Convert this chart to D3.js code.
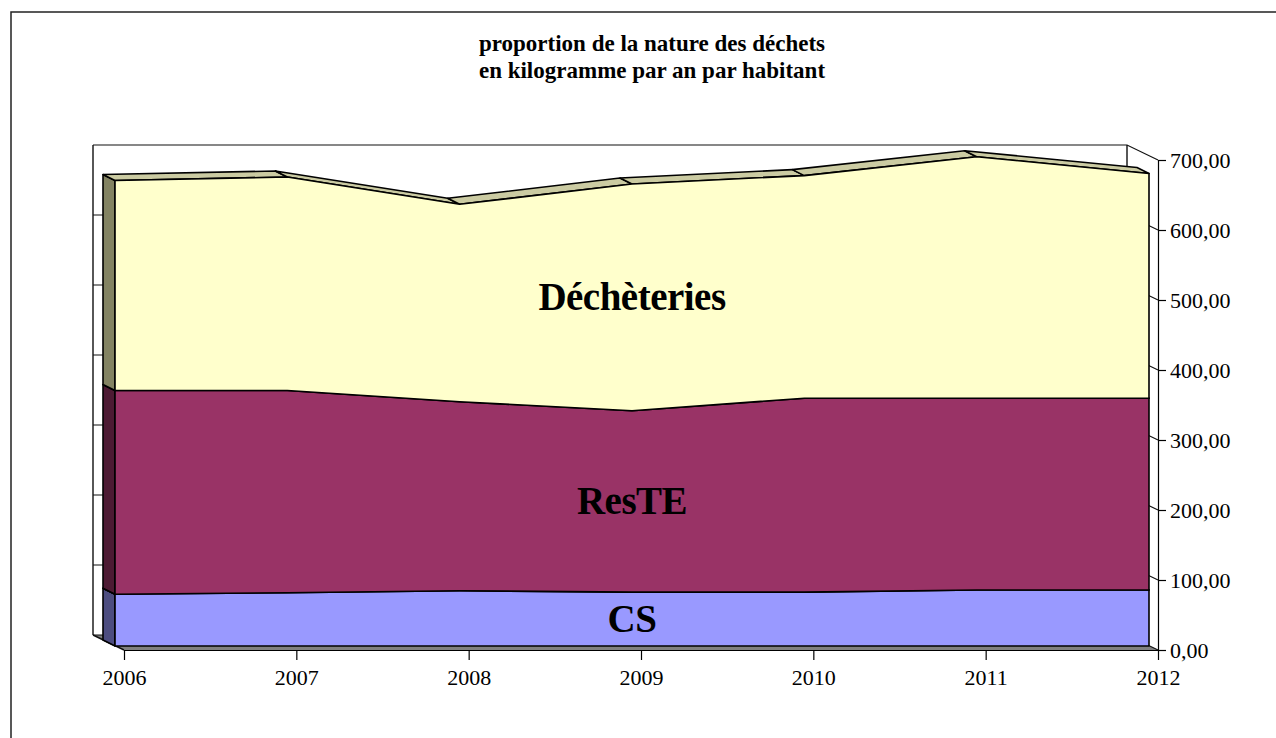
<!DOCTYPE html>
<html lang="fr">
	<head>
		<meta charset="utf-8">
		<title>proportion de la nature des déchets</title>
		<script type="text/javascript" src="https://cdn.jsdelivr.net/npm/d3@7/dist/d3.min.js"></script>
		<style type="text/css">
			body { margin: 0; background: #fff; }
			svg { display: block; }
			text { font-family: "Liberation Serif", "Times New Roman", serif; fill: #000; }
		</style>
	</head>
	<body>
		<script>
			// data (kg / an / habitant)
			var years = ['2006', '2007', '2008', '2009', '2010', '2011', '2012'];
			var keys = ['CS', 'ResTE', 'Déchèteries'];
			var cs = [74, 76, 79, 77, 77, 80, 80];
			var reste = [291, 289, 270, 259, 277, 274, 274];
			var decheteries = [300, 305, 282, 324, 318, 345, 321];
			var yTicks = [0, 100, 200, 300, 400, 500, 600, 700];
			var titleLines = ['proportion de la nature des déchets', 'en kilogramme par an par habitant'];

			var outerWidth = 1276,
				outerHeight = 738;

			var rows = years.map(function(yr, i) {
				return {year: yr, 'CS': cs[i], 'ResTE': reste[i], 'Déchèteries': decheteries[i]};
			});
			var stacked = d3.stack().keys(keys)(rows);

			// back wall plane
			var x = d3.scalePoint().domain(years).range([93, 1127]);
			var y = d3.scaleLinear().domain([0, 700]).range([635, 145]);

			// depth offsets of the oblique projection
			var wall = {dx: 0, dy: 0},
				back = {dx: 10, dy: 5},
				front = {dx: 22, dy: 11},
				axisD = {dx: 31, dy: 15};

			function P(yr, v, d) { return [x(yr) + d.dx, y(v) + d.dy]; }

			var colors = {
				'CS': {front: '#9999ff', side: '#4d4d80', top: '#7a7acc'},
				'ResTE': {front: '#993366', side: '#4d1a33', top: '#7a2952'},
				'Déchèteries': {front: '#ffffcc', side: '#838362', top: '#cbcba2'}
			};

			var svg = d3.select('body')
				.append('svg')
				.attr('width', outerWidth)
				.attr('height', outerHeight);

			// chart border (right and bottom run off the picture)
			svg.append('rect')
				.attr('x', 11).attr('y', 12)
				.attr('width', 1400).attr('height', 900)
				.attr('fill', 'none')
				.attr('stroke', '#222')
				.attr('stroke-width', 1.5);

			// title
			svg.append('g')
				.selectAll('text')
				.data(titleLines)
				.enter().append('text')
				.attr('x', 652)
				.attr('y', function(d, i) { return 51 + i * 27; })
				.attr('text-anchor', 'middle')
				.attr('font-weight', 'bold')
				.attr('font-size', '23px')
				.text(function(d) { return d; });

			var line = d3.line();
			var first = years[0], last = years[years.length - 1];

			// floor
			svg.append('path')
				.attr('d', line([P(first, 0, wall), P(last, 0, wall), P(last, 0, axisD), P(first, 0, axisD)]) + 'Z')
				.attr('fill', '#808080')
				.attr('stroke', 'none');

			// back wall + side wall gridlines
			var walls = svg.append('g')
				.attr('fill', 'none')
				.attr('stroke', '#111')
				.attr('stroke-width', 1.2);

			walls.selectAll('.grid')
				.data(yTicks)
				.enter().append('path')
				.attr('class', 'grid')
				.attr('d', function(v) {
					return line([P(first, v, wall), P(last, v, wall), P(last, v, axisD)]);
				});

			walls.append('path')
				.attr('d', line([P(first, 0, wall), P(first, 700, wall)]) + line([P(last, 0, wall), P(last, 700, wall)]) +
					line([P(first, 0, wall), P(first, 0, axisD)]))
				.attr('stroke-width', 1.4);

			// stacked 3D areas
			var layers = svg.append('g')
				.attr('stroke', '#000')
				.attr('stroke-width', 1.6)
				.attr('stroke-linejoin', 'round');

			stacked.forEach(function(s) {
				var c = colors[s.key];
				var g = layers.append('g');

				// left side
				g.append('path')
					.attr('d', line([P(first, s[0][0], back), P(first, s[0][1], back), P(first, s[0][1], front), P(first, s[0][0], front)]) + 'Z')
					.attr('fill', c.side);

				// top strip, one piece per segment
				for (var i = 0; i < years.length - 1; i++) {
					var a = years[i], b = years[i + 1];
					g.append('path')
						.attr('d', line([P(a, s[i][1], back), P(b, s[i + 1][1], back), P(b, s[i + 1][1], front), P(a, s[i][1], front)]) + 'Z')
						.attr('fill', c.top);
				}

				// front face
				var upper = s.map(function(d) { return P(d.data.year, d[1], front); });
				var lower = s.map(function(d) { return P(d.data.year, d[0], front); }).reverse();
				g.append('path')
					.attr('d', line(upper.concat(lower)) + 'Z')
					.attr('fill', c.front);
			});

			// series labels, centred on the middle category
			var mid = Math.floor(years.length / 2);
			svg.append('g')
				.selectAll('text')
				.data(stacked)
				.enter().append('text')
				.attr('x', function(s) { return P(years[mid], 0, front)[0]; })
				.attr('y', function(s) { return P(years[mid], (s[mid][0] + s[mid][1]) / 2, front)[1]; })
				.attr('dy', '0.33em')
				.attr('text-anchor', 'middle')
				.attr('font-weight', 'bold')
				.attr('font-size', '39px')
				.attr('letter-spacing', '-0.5px')
				.text(function(s) { return s.key; });

			// axes
			var fr = d3.formatLocale({decimal: ',', thousands: ' ', grouping: [3], currency: ['', '']});
			var fmt = fr.format('.2f');

			var yAxis = svg.append('g')
				.attr('transform', 'translate(' + (x(last) + axisD.dx) + ',' + axisD.dy + ')')
				.call(d3.axisRight(y).tickValues(yTicks).tickFormat(fmt).tickSize(8).tickSizeOuter(0).tickPadding(4));

			var xAxis = svg.append('g')
				.attr('transform', 'translate(' + axisD.dx + ',' + (y(0) + axisD.dy) + ')')
				.call(d3.axisBottom(x).tickSize(10).tickSizeOuter(0).tickPadding(9));

			[yAxis, xAxis].forEach(function(ax) {
				ax.attr('font-family', null).attr('font-size', null);
				ax.selectAll('path, line').attr('stroke', '#000').attr('stroke-width', 1.2);
				ax.selectAll('text').attr('font-size', '22px').attr('fill', '#000');
			});
		</script>
	</body>
</html>
